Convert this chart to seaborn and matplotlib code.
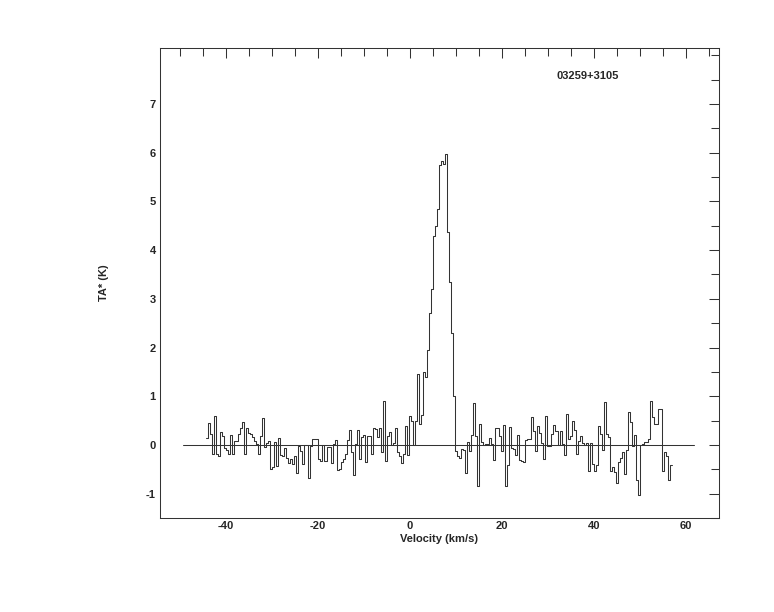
import numpy as np
import pandas as pd
import seaborn as sns
import matplotlib.pyplot as plt
from matplotlib.ticker import MultipleLocator, FixedLocator

# spectrum (K)
ta_blue = [0.14, 0.45, 0.23, -0.18, 0.6, -0.18, -0.23, 0.27, 0.18, -0.06,
           -0.1, -0.18, 0.21, -0.18, 0.09, 0.09, 0.23, 0.35, 0.47, -0.18,
           0.35, 0.25, 0.23, 0.16, 0.08, 0.02, -0.18, 0.18, 0.55, -0.05,
           0.04, 0.08, -0.49, -0.46, 0.06, -0.44, 0.14, -0.2, -0.23, -0.06,
           -0.27, -0.37, -0.28, -0.4, -0.23, -0.58, -0.03, -0.12, -0.4, 0.0,
           0.0, -0.68, -0.03, 0.12, 0.12, 0.12, -0.28]
ta_mid = [-0.33, 0.0, -0.33, -0.05, -0.05, -0.37, 0.02, 0.11, -0.51, -0.5,
          -0.36, -0.28, -0.18, 0.11, 0.31, -0.14, -0.61, 0.02, 0.31, -0.28,
          0.16, 0.21, -0.35, 0.18, 0.18, -0.18, 0.34, 0.32, 0.16, 0.35,
          -0.14, 0.91, -0.32, 0.18, 0.27, 0.0, 0.04, 0.35, -0.14, -0.23,
          -0.37, -0.18, 0.38, -0.2, 0.59, 0.49, 0.0, 0.49]
ta_line = [1.45, 0.42, 0.62, 1.5, 1.4, 1.95, 2.7, 3.2, 4.3, 4.5,
           4.85, 5.75, 5.82, 5.77, 5.98, 4.38, 3.35, 2.3, 1.0]
ta_red1 = [-0.12, -0.23, -0.27, -0.08, -0.1, -0.58, 0.06, -0.12, 0.2, 0.86,
           0.18, -0.85, 0.43, 0.06, 0.0, 0.02, 0.02, 0.14, 0.02, -0.3,
           0.34, 0.34, 0.18, -0.12, 0.4, -0.85, -0.42, 0.36, -0.06, -0.08,
           -0.21, 0.2, -0.3, -0.32, -0.35, 0.11, 0.13, 0.13, 0.57, 0.28,
           -0.12, 0.38, 0.25, 0.04, -0.28, 0.59, -0.03, -0.03, 0.23, 0.4]
ta_red2 = [0.29, 0.0, 0.29, 0.02, -0.2, 0.64, 0.13, 0.18, 0.5, 0.31,
           -0.18, 0.09, 0.18, 0.04, 0.0, 0.04, -0.54, 0.04, -0.4, -0.53,
           -0.42, 0.38, 0.23, -0.1, 0.88, 0.23, 0.16, -0.53, -0.46, -0.55,
           -0.78, -0.35, -0.27, -0.14, -0.6, -0.1, 0.68, 0.47, -0.03, 0.21,
           -0.73, -1.02, 0.0, 0.02, 0.06, 0.06, 0.13, 0.91, 0.57, 0.43,
           0.43, 0.73, 0.73, -0.53, -0.14, -0.23, -0.71, -0.42]

v_first, v_last = -44.35, 56.96   # outer edges of the spectrum (km/s)
baseline_range = [-49.3, 61.7]
y_ticks = [-1, 0, 1, 2, 3, 4, 5, 6, 7]
source = '03259+3105'

ta = np.array(ta_blue + ta_mid + ta_line + ta_red1 + ta_red2)
edges = np.linspace(v_first, v_last, len(ta) + 1)
vel = 0.5 * (edges[:-1] + edges[1:])
df = pd.DataFrame({'vel': vel, 'ta': ta})

sns.set_theme(style='white')
plt.rcParams['font.family'] = ['Liberation Sans', 'DejaVu Sans']
plt.rcParams['font.weight'] = 'bold'
plt.rcParams['axes.unicode_minus'] = False

fig = plt.figure(figsize=(7.74, 6.12), dpi=100)
ax = fig.add_axes([0.2067, 0.1536, 0.7222, 0.768])

lc = '#333333'
sns.lineplot(data=df, x='vel', y='ta', drawstyle='steps-mid', color=lc,
             lw=0.75, estimator=None, ax=ax)
# extend the end steps out to the channel edges
ax.plot([edges[0], vel[0]], [ta[0], ta[0]], color=lc, lw=0.75)
ax.plot([vel[-1], edges[-1]], [ta[-1], ta[-1]], color=lc, lw=0.75)
ax.plot(baseline_range, [0, 0], color=lc, lw=0.75)

ax.set_xlim(-54.35, 67.17)
ax.set_ylim(-1.5, 8.15)
ax.xaxis.set_major_locator(MultipleLocator(20))
ax.xaxis.set_minor_locator(MultipleLocator(5))
ax.yaxis.set_major_locator(FixedLocator(y_ticks))
ax.yaxis.set_minor_locator(MultipleLocator(0.5))
ax.tick_params(which='both', direction='in', top=True, right=True,
               color=lc, width=0.75, labelsize=8)
ax.tick_params(axis='x', pad=2)
ax.tick_params(axis='y', pad=3)
ax.tick_params(which='major', length=7.5)
ax.tick_params(which='minor', length=5.5)
for lab in ax.get_xticklabels() + ax.get_yticklabels():
    lab.set_fontweight('bold')
for sp in ax.spines.values():
    sp.set_color(lc)
    sp.set_linewidth(0.75)

ax.set_xlabel('Velocity (km/s)', fontsize=8, fontweight='bold')
ax.set_ylabel('TA* (K)', fontsize=8, fontweight='bold')
ax.xaxis.set_label_coords(0.5, -0.033)
ax.yaxis.set_label_coords(-0.092, 0.5)
ax.text(0.766, 0.94, source, transform=ax.transAxes, ha='center', va='center',
        fontsize=8, fontweight='bold')

fig.savefig('out.png', dpi=100)
